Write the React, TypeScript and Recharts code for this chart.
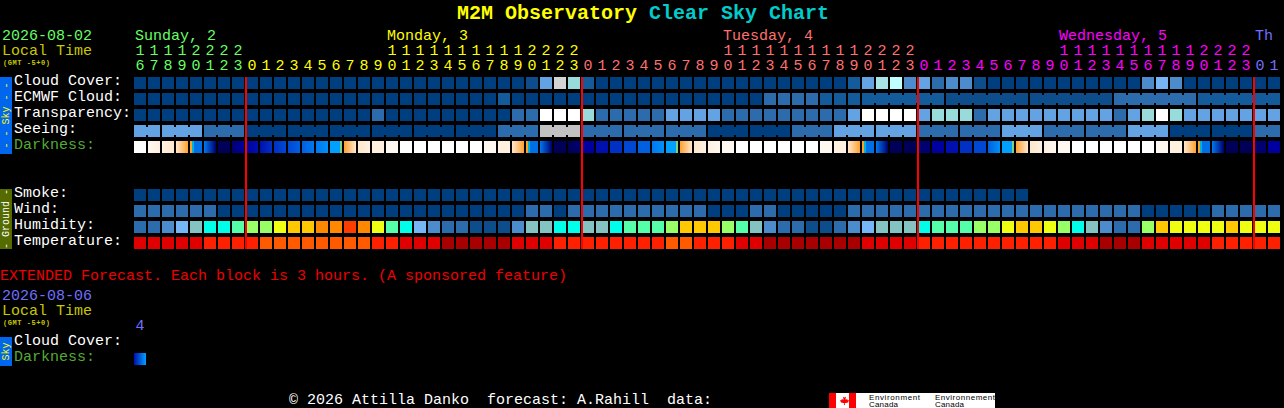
import { ScatterChart, Scatter, XAxis, YAxis, ReferenceLine } from "recharts";

// ── Fonts ──
const MONO = "'Liberation Mono', monospace";
const SANS = "'Liberation Sans', sans-serif";

// ── Time axis ──
const hours = [
  16, 17, 18, 19, 20, 21, 22, 23,
  0, 1, 2, 3, 4, 5, 6, 7, 8, 9, 10, 11, 12, 13, 14, 15, 16, 17, 18, 19, 20, 21, 22, 23,
  0, 1, 2, 3, 4, 5, 6, 7, 8, 9, 10, 11, 12, 13, 14, 15, 16, 17, 18, 19, 20, 21, 22, 23,
  0, 1, 2, 3, 4, 5, 6, 7, 8, 9, 10, 11, 12, 13, 14, 15, 16, 17, 18, 19, 20, 21, 22, 23,
  0, 1,
];
const midnightCols = [8, 32, 56, 80];
const dayNames = ["Sunday, 2", "Monday, 3", "Tuesday, 4", "Wednesday, 5", "Th"];
const dayNameCols = [0, 18, 42, 66, 80];
const dayColors = ["#66ff66", "#ffff00", "#ff7070", "#ff00ff", "#7070ff"];

// ── Row labels ──
const skyLabels = ["Cloud Cover:", "ECMWF Cloud:", "Transparency:", "Seeing:", "Darkness:"];
const groundLabels = ["Smoke:", "Wind:", "Humidity:", "Temperature:"];

// ── Palettes, index = level in the rows below ──
const skyPalette = [
  "#003f7f", "#0d4d8b", "#135b9b", "#2c6cac", "#4c8ccc", "#63a3e3", "#76b6f6",
  "#85c2c2", "#99dada", "#a8e4e4", "#bfffff", "#c2c2c2", "#d4d4d4", "#ffffff",
];
const humidityPalette = [
  "#0d4d8b", "#2c6cac", "#4c8ccc", "#76b6f6", "#85c2c2", "#00ffea",
  "#55ffaa", "#99ff66", "#eeff11", "#ffc800", "#ff8800", "#ff3c00",
];
const temperaturePalette = ["#a80000", "#e00000", "#ff2000", "#ff5a00"];
const darknessPalette = [
  "#ffffff", "#fff8f0", "#fff0e0", "#ffe8cc", "#ffc070", "#ffa030", "#00a0ff", "#0090f8",
  "#0078f0", "#0060e0", "#0048d4", "#0030c4", "#0010b0", "#0000a0", "#000070", "#000058",
];

// ── Sky rows ──
const cloudCover = [
  0, 0, 0, 0, 0, 0, 0, 0, 0, 0,
  0, 0, 0, 0, 0, 0, 0, 0, 0, 0,
  0, 0, 0, 0, 0, 0, 0, 0, 1, 5,
  12, 8, 2, 0, 0, 0, 0, 0, 0, 0,
  0, 0, 0, 0, 0, 0, 0, 0, 0, 0,
  0, 2, 5, 9, 10, 4, 5, 3, 4, 4,
  1, 0, 0, 0, 0, 0, 0, 0, 0, 0,
  0, 0, 4, 6, 4, 0, 0, 0, 0, 0,
  0, 0,
];
const ecmwfCloud = [
  0, 0, 0, 0, 0, 0, 0, 0, 0, 0,
  0, 0, 0, 0, 0, 0, 0, 0, 0, 0,
  0, 0, 0, 0, 0, 0, 2, 0, 0, 0,
  0, 0, 0, 0, 0, 0, 0, 0, 0, 0,
  0, 0, 0, 0, 0, 3, 3, 3, 3, 2,
  2, 2, 2, 2, 2, 2, 2, 2, 1, 1,
  1, 1, 1, 1, 1, 1, 1, 1, 1, 1,
  3, 3, 3, 3, 3, 3, 2, 2, 2, 2,
  2, 2,
];
const ecmwfBlocks = [[52, 57], [58, 63], [64, 69], [70, 75], [76, 81]];
const transparency = [
  0, 0, 0, 0, 0, 0, 0, 0, 0, 0,
  0, 0, 0, 0, 0, 0, 0, 3, 0, 0,
  0, 0, 0, 0, 0, 0, 0, 3, 3, 13,
  13, 13, 8, 3, 3, 3, 3, 3, 5, 5,
  5, 5, 3, 3, 3, 3, 3, 3, 3, 3,
  3, 5, 13, 13, 13, 13, 5, 8, 8, 8,
  3, 5, 5, 5, 5, 5, 5, 5, 5, 5,
  3, 5, 8, 13, 8, 5, 5, 5, 5, 5,
  5, 5,
];
const seeing = [
  5, 5, 5, 5, 5, 3, 3, 3, 0, 0,
  0, 0, 0, 0, 0, 0, 0, 0, 0, 0,
  0, 0, 0, 0, 0, 0, 3, 3, 3, 11,
  11, 11, 3, 3, 3, 3, 3, 3, 3, 3,
  3, 0, 0, 0, 0, 0, 0, 3, 3, 3,
  5, 5, 5, 5, 5, 5, 3, 3, 3, 3,
  3, 3, 5, 5, 5, 3, 3, 3, 3, 3,
  3, 5, 5, 5, 0, 0, 0, 0, 0, 0,
  3, 3,
];
const seeingBlocks = [
  [0, 1], [2, 4], [5, 7], [8, 10], [11, 13], [14, 16], [17, 19], [20, 22], [23, 25], [26, 28],
  [29, 31], [32, 34], [35, 37], [38, 40], [41, 43], [44, 46], [47, 49], [50, 52], [53, 55],
  [56, 58], [59, 61], [62, 64], [65, 67], [68, 70], [71, 73], [74, 76], [77, 79], [80, 81],
];
// left and right edge of every darkness block
const darknessStart = [
  0, 1, 2, 3, 5, 8, 15, 14, 13, 12,
  11, 10, 9, 8, 6, 5, 3, 2, 1, 0,
  0, 0, 0, 0, 0, 1, 2, 3, 5, 8,
  15, 15, 13, 12, 11, 10, 9, 8, 6, 5,
  3, 2, 1, 0, 0, 0, 0, 0, 0, 1,
  2, 3, 5, 8, 15, 15, 14, 13, 12, 11,
  10, 9, 6, 5, 3, 2, 1, 0, 0, 0,
  0, 0, 0, 1, 2, 3, 5, 8, 15, 15,
  14, 13,
];
const darknessEnd = [
  0, 2, 3, 5, 8, 14, 15, 13, 12, 11,
  10, 9, 8, 7, 6, 3, 2, 2, 1, 0,
  0, 0, 0, 0, 0, 1, 2, 5, 8, 14,
  15, 14, 13, 12, 11, 10, 9, 7, 6, 3,
  2, 1, 1, 0, 0, 0, 0, 0, 0, 1,
  2, 5, 8, 14, 15, 15, 14, 13, 12, 11,
  10, 7, 6, 3, 2, 1, 1, 0, 0, 0,
  0, 0, 0, 1, 2, 5, 8, 14, 15, 15,
  14, 13,
];
const sunsetCols = [4, 28, 52, 76];
const sunriseCols = [14, 38, 62];

// ── Ground rows ──
const smoke = [
  0, 0, 0, 0, 0, 0, 0, 0, 0, 0,
  0, 0, 0, 0, 0, 0, 0, 0, 0, 0,
  0, 0, 0, 0, 0, 0, 0, 0, 0, 0,
  0, 0, 0, 0, 0, 0, 0, 0, 0, 0,
  0, 0, 0, 0, 0, 0, 0, 0, 0, 0,
  0, 0, 0, 0, 0, 0, 0, 0, 0, 0,
  0, 0, 0, 0,
];
const wind = [
  3, 3, 3, 3, 3, 3, 0, 0, 0, 0,
  0, 0, 0, 0, 0, 0, 0, 0, 0, 0,
  0, 0, 0, 0, 0, 0, 0, 0, 3, 3,
  0, 3, 3, 3, 3, 3, 3, 3, 3, 3,
  3, 0, 0, 0, 3, 3, 0, 0, 0, 0,
  0, 3, 3, 3, 3, 3, 3, 3, 3, 3,
  3, 3, 3, 3, 3, 3, 3, 3, 3, 3,
  3, 3, 0, 0, 0, 0, 0, 3, 3, 3,
  3, 3,
];
const humidity = [
  1, 1, 2, 3, 4, 5, 5, 6, 7, 7,
  8, 9, 9, 10, 10, 11, 10, 8, 6, 5,
  3, 2, 1, 1, 0, 0, 0, 2, 4, 4,
  5, 5, 4, 4, 5, 6, 6, 6, 7, 9,
  9, 9, 7, 6, 4, 2, 1, 1, 0, 0,
  1, 2, 3, 4, 4, 4, 5, 6, 6, 6,
  7, 7, 8, 9, 9, 8, 7, 5, 4, 2,
  1, 1, 7, 9, 8, 8, 8, 8, 9, 8,
  8, 8,
];
const temperature = [
  1, 1, 1, 1, 1, 2, 2, 2, 2, 3,
  3, 3, 3, 3, 3, 3, 3, 2, 2, 1,
  1, 1, 0, 0, 0, 0, 0, 1, 1, 1,
  2, 2, 2, 2, 2, 2, 2, 2, 3, 3,
  2, 2, 2, 1, 1, 0, 0, 0, 0, 0,
  0, 0, 1, 1, 1, 1, 2, 2, 2, 2,
  2, 2, 2, 2, 2, 2, 1, 1, 1, 0,
  0, 0, 1, 1, 1, 1, 1, 2, 2, 2,
  2, 2,
];

// ── Extended forecast ──
const extendedStart = [12];
const extendedEnd = [6];
const extendedHours = [4];

// ── Helpers ──
interface BlockPoint {
  col: number;
  row: number;
  index: number;
  fill?: string;
  fillEnd?: string;
  joined?: boolean;
  sunset?: boolean;
  sunrise?: boolean;
  gradientId?: string;
}

function levelRow(levels: number[], row: number, palette: string[], blocks: number[][] = []): BlockPoint[] {
  return levels.map((level, i) => ({
    col: i + 0.5,
    row: row + 0.5,
    index: i,
    fill: palette[level],
    joined: blocks.some(([a, b]) => i >= a && i < b),
  }));
}

function darknessRow(start: number[], end: number[], row: number, id: string): BlockPoint[] {
  return start.map((level, i) => ({
    col: i + 0.5,
    row: row + 0.5,
    index: i,
    fill: darknessPalette[level],
    fillEnd: darknessPalette[end[i]],
    sunset: id === "main" && sunsetCols.includes(i),
    sunrise: id === "main" && sunriseCols.includes(i),
    gradientId: `dark-${id}-${i}`,
  }));
}

// ── One block of the chart ──
function Block({ cx, cy, payload }: { cx?: number; cy?: number; payload?: BlockPoint }) {
  if (cx == null || cy == null || !payload) return null;
  const left = cx - 7;
  const top = cy - 6;
  if (payload.sunset) {
    return (
      <g>
        <rect x={left} y={top} width={2} height={12} fill="#ffa020" />
        <rect x={left + 2} y={top} width={2} height={12} fill="#00b0e0" />
        <rect x={left + 4} y={top} width={8} height={12} fill="#0070e8" />
      </g>
    );
  }
  if (payload.sunrise) {
    return (
      <g>
        <rect x={left} y={top} width={10} height={12} fill="#00a0ff" />
        <rect x={left + 10} y={top} width={2} height={12} fill="#80d080" />
      </g>
    );
  }
  if (payload.gradientId) {
    return (
      <g>
        <defs>
          <linearGradient id={payload.gradientId} x1="0" y1="0" x2="1" y2="0">
            <stop offset="0%" stopColor={payload.fill} />
            <stop offset="100%" stopColor={payload.fillEnd} />
          </linearGradient>
        </defs>
        <rect x={left} y={top} width={12} height={12} fill={`url(#${payload.gradientId})`} />
      </g>
    );
  }
  return (
    <g>
      <rect x={left} y={top} width={12} height={12} fill={payload.fill} />
      {payload.joined && <rect x={left + 12} y={top + 2} width={2} height={8} fill={payload.fill} />}
    </g>
  );
}

function dayIndex(col: number) {
  return midnightCols.filter((c) => c <= col).length;
}

// ── Hour digits and day names ──
function HourTick({ x, payload }: { x?: number; payload?: { value: number } }) {
  if (x == null || !payload) return null;
  const col = Math.floor(payload.value);
  const hour = hours[col];
  const color = dayColors[dayIndex(col)];
  const nameAt = dayNameCols.indexOf(col);
  return (
    <g fontFamily={MONO} fontSize={15} fill={color}>
      {nameAt >= 0 && (
        <text x={x - 6} y={40}>
          {dayNames[nameAt]}
        </text>
      )}
      {hour >= 10 && (
        <text x={x - 1} y={55} textAnchor="middle">
          {Math.floor(hour / 10)}
        </text>
      )}
      <text x={x - 1} y={70} textAnchor="middle">
        {hour % 10}
      </text>
    </g>
  );
}

function ExtendedHourTick({ x }: { x?: number }) {
  if (x == null) return null;
  return (
    <text x={x - 1} y={330} textAnchor="middle" fontFamily={MONO} fontSize={15} fill="#7070ff">
      {extendedHours[0]}
    </text>
  );
}

// ── Row labels ──
function RowTick({ y, payload, labels }: { y?: number; payload?: { value: number }; labels: Record<string, string> }) {
  if (y == null || !payload) return null;
  const label = labels[String(payload.value)];
  return (
    <text x={14} y={y + 2} fontFamily={MONO} fontSize={15} fill={label === "Darkness:" ? "#55aa33" : "#ffffff"}>
      {label}
    </text>
  );
}

const mainLabels: Record<string, string> = {};
skyLabels.forEach((l, i) => (mainLabels[String(i + 0.5)] = l));
groundLabels.forEach((l, i) => (mainLabels[String(i + 7.5)] = l));
const extendedLabels: Record<string, string> = { "0.5": skyLabels[0], "1.5": skyLabels[4] };

function SideLabel({ y, height, fill, color, text }: { y: number; height: number; fill: string; color: string; text: string }) {
  const mid = y + height / 2;
  return (
    <g>
      <rect x={0} y={y} width={12} height={height} fill={fill} />
      <text
        x={9}
        y={mid}
        fontFamily={MONO}
        fontSize={10}
        fill={color}
        textAnchor="middle"
        transform={`rotate(-90 9 ${mid})`}
        style={{ whiteSpace: "pre" }}
      >
        {text}
      </text>
    </g>
  );
}

function DateBlock({ date, color, y }: { date: string; color: string; y: number }) {
  return (
    <g fontFamily={MONO}>
      <text x={2} y={y} fontSize={15} fill={color}>
        {date}
      </text>
      <text x={2} y={y + 15} fontSize={15} fill="#c8c800">
        Local Time
      </text>
      <text x={3} y={y + 25} fontSize={7} fontWeight="bold" fill="#c8c800" textLength={47}>
        (GMT -5+0)
      </text>
    </g>
  );
}

const CHART_W = 1284;
const CHART_H = 408;
const layer = { position: "absolute" as const, left: 0, top: 0 };

export default function App() {
  return (
    <div style={{ position: "absolute", left: 0, top: 0, width: CHART_W, height: CHART_H, background: "#000", overflow: "hidden" }}>
      {/* ── Main forecast ── */}
      <div style={layer}>
        <ScatterChart width={CHART_W} height={CHART_H} margin={{ top: 0, right: 2, bottom: 157, left: 0 }}>
          <XAxis
            xAxisId={0}
            type="number"
            dataKey="col"
            orientation="top"
            height={75}
            domain={[0, 82]}
            ticks={hours.map((_, i) => i + 0.5)}
            interval={0}
            tick={<HourTick />}
            tickLine={false}
            axisLine={false}
          />
          <YAxis
            type="number"
            dataKey="row"
            width={134}
            domain={[0, 11]}
            reversed
            ticks={[0.5, 1.5, 2.5, 3.5, 4.5, 7.5, 8.5, 9.5, 10.5]}
            interval={0}
            tick={<RowTick labels={mainLabels} />}
            tickLine={false}
            axisLine={false}
          />
          <Scatter data={levelRow(cloudCover, 0, skyPalette)} shape={<Block />} isAnimationActive={false} />
          <Scatter data={levelRow(ecmwfCloud, 1, skyPalette, ecmwfBlocks)} shape={<Block />} isAnimationActive={false} />
          <Scatter data={levelRow(transparency, 2, skyPalette)} shape={<Block />} isAnimationActive={false} />
          <Scatter data={levelRow(seeing, 3, skyPalette, seeingBlocks)} shape={<Block />} isAnimationActive={false} />
          <Scatter data={darknessRow(darknessStart, darknessEnd, 4, "main")} shape={<Block />} isAnimationActive={false} />
          <Scatter data={levelRow(smoke, 7, skyPalette)} shape={<Block />} isAnimationActive={false} />
          <Scatter data={levelRow(wind, 8, skyPalette)} shape={<Block />} isAnimationActive={false} />
          <Scatter data={levelRow(humidity, 9, humidityPalette)} shape={<Block />} isAnimationActive={false} />
          <Scatter data={levelRow(temperature, 10, temperaturePalette)} shape={<Block />} isAnimationActive={false} />
          {midnightCols.map((col) => (
            <ReferenceLine
              key={col}
              segment={[{ x: col, y: 0.125 }, { x: col, y: 10.875 }]}
              stroke="#ff0000"
              strokeWidth={2}
              ifOverflow="visible"
              zIndex={700}
            />
          ))}
          <text x={457} y={19} fontFamily={MONO} fontSize={20} fontWeight="bold" fill="#ffff00">
            M2M Observatory
          </text>
          <text x={649} y={19} fontFamily={MONO} fontSize={20} fontWeight="bold" fill="#00cccc">
            Clear Sky Chart
          </text>
          <DateBlock date="2026-08-02" color="#66ff66" y={40} />
          <SideLabel y={77} height={77} fill="#0066ee" color="#ffff00" text="- - Sky - -" />
          <SideLabel y={189} height={60} fill="#556b00" color="#ffffff" text="- Ground -" />
        </ScatterChart>
      </div>

      {/* ── Extended forecast and footer ── */}
      <div style={layer}>
        <ScatterChart width={CHART_W} height={CHART_H} margin={{ top: 0, right: 2, bottom: 41, left: 0 }}>
          <XAxis
            type="number"
            dataKey="col"
            orientation="top"
            height={335}
            domain={[0, 82]}
            ticks={[0.5]}
            interval={0}
            tick={<ExtendedHourTick />}
            tickLine={false}
            axisLine={false}
          />
          <YAxis
            type="number"
            dataKey="row"
            width={134}
            domain={[0, 2]}
            reversed
            ticks={[0.5, 1.5]}
            interval={0}
            tick={<RowTick labels={extendedLabels} />}
            tickLine={false}
            axisLine={false}
          />
          <Scatter data={darknessRow(extendedStart, extendedEnd, 1, "ext")} shape={<Block />} isAnimationActive={false} />
          <text x={0} y={280} fontFamily={MONO} fontSize={15} fill="#ee0000">
            EXTENDED Forecast. Each block is 3 hours. (A sponsored feature)
          </text>
          <DateBlock date="2026-08-06" color="#7070ff" y={300} />
          <SideLabel y={337} height={29} fill="#0066ee" color="#ffff00" text="Sky" />
          <text x={289} y={404} fontFamily={MONO} fontSize={15} fill="#ffffff" style={{ whiteSpace: "pre" }}>
            © 2026 Attilla Danko  forecast: A.Rahill  data:
          </text>
          {/* Environment Canada badge */}
          <rect x={829} y={393} width={166} height={15} fill="#ffffff" />
          <rect x={829} y={393} width={7} height={15} fill="#ff0000" />
          <rect x={849} y={393} width={7} height={15} fill="#ff0000" />
          <path d="M843 395 l1.5 2.5 1.5 -.8 -.6 3 1.8 -.8 .4 1.4 1.4 -.2 -1 2.4 -3.2 .8 .2 1.7 h-1 l.2 -1.7 -3.2 -.8 -1 -2.4 1.4 .2 .4 -1.4 1.8 .8 -.6 -3 1.5 .8 z" fill="#ff0000" />
          <g fontFamily={SANS} fontSize={8} fill="#000000">
            <text x={869} y={400} textLength={51}>Environment</text>
            <text x={869} y={407} textLength={29}>Canada</text>
            <text x={935} y={400} textLength={60}>Environnement</text>
            <text x={935} y={407} textLength={29}>Canada</text>
          </g>
        </ScatterChart>
      </div>
    </div>
  );
}
